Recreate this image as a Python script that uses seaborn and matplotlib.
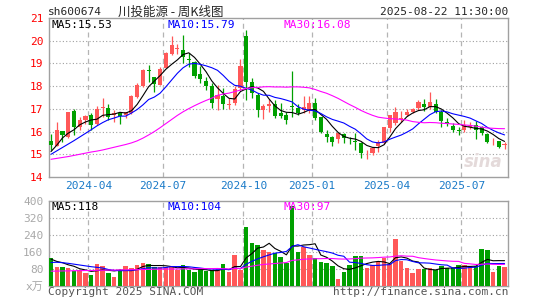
import numpy as np
import pandas as pd
import matplotlib
matplotlib.use("Agg")
import matplotlib.pyplot as plt
import seaborn as sns

# weekly K line of sh600674, one entry per trading week (first = week of 2024-02-09)
opens = [15.59, 15.38, 16.01, 15.74, 16.91, 16.19, 16.49, 16.74, 16.32, 17.05,
         17.03, 16.71, 16.81, 16.74, 16.81, 17.54, 18.01, 18.72, 18.40, 18.06,
         18.80, 19.43, 19.62, 19.60, 19.20, 19.07, 18.55, 18.23, 18.02, 17.44,
         17.55, 17.18, 17.25, 17.90, 20.22, 18.20, 17.62, 16.96, 17.13, 17.20,
         16.81, 16.75, 17.12, 17.05, 16.95, 16.96, 17.25, 16.62, 15.90, 15.78,
         15.66, 15.90, 15.65, 15.58, 15.50, 15.00, 15.05, 15.35, 15.51, 16.15,
         16.37, 16.56, 16.74, 16.84, 17.03, 17.22, 17.07, 17.22, 16.84, 16.42,
         16.25, 16.05, 16.05, 16.22, 16.30, 16.20, 15.88, 15.53, 15.58, 15.42]
closes = [15.41, 16.07, 15.85, 16.84, 16.22, 16.51, 16.69, 16.30, 17.00, 17.08,
          16.66, 16.81, 16.69, 16.84, 17.57, 18.06, 18.72, 18.68, 18.09, 18.77,
          19.45, 19.80, 19.66, 19.28, 19.15, 18.43, 18.30, 18.02, 17.26, 17.62,
          17.20, 17.22, 17.87, 18.90, 18.20, 17.70, 16.93, 17.13, 17.20, 16.70,
          16.69, 16.52, 17.08, 16.82, 17.10, 17.25, 16.60, 16.00, 15.74, 15.56,
          15.92, 15.70, 15.62, 15.55, 15.05, 15.03, 15.27, 15.56, 16.18, 16.74,
          16.88, 16.60, 16.88, 16.98, 17.28, 17.07, 17.28, 16.88, 16.45, 16.35,
          16.05, 16.02, 16.30, 16.25, 16.08, 15.93, 15.56, 15.55, 15.34, 15.45]
highs = [15.88, 16.42, 16.03, 16.88, 17.00, 16.65, 16.75, 16.80, 17.12, 17.48,
         17.23, 16.93, 16.87, 16.88, 17.60, 18.12, 18.74, 18.95, 18.42, 18.85,
         19.50, 20.20, 19.85, 20.25, 19.45, 19.12, 18.90, 18.40, 18.12, 18.05,
         17.92, 17.50, 18.00, 19.20, 20.45, 18.35, 17.68, 17.20, 17.42, 17.38,
         17.25, 16.88, 18.68, 17.22, 17.58, 17.55, 17.48, 16.65, 16.05, 15.80,
         15.95, 15.92, 15.78, 15.95, 15.55, 15.20, 15.30, 15.62, 16.20, 16.75,
         17.10, 16.90, 17.00, 17.05, 17.40, 17.45, 17.75, 17.42, 16.95, 16.58,
         16.38, 16.18, 16.52, 16.40, 16.45, 16.25, 15.92, 15.72, 15.60, 15.55]
lows = [15.19, 15.35, 15.55, 15.70, 15.85, 16.05, 16.35, 16.08, 16.27, 16.65,
        16.50, 16.44, 16.35, 16.60, 16.77, 17.50, 17.97, 18.20, 17.75, 18.03,
        18.78, 19.38, 19.40, 19.00, 18.85, 18.35, 18.15, 17.85, 17.02, 16.95,
        16.98, 16.98, 17.15, 17.85, 17.40, 17.50, 16.65, 16.55, 16.88, 16.60,
        16.58, 16.35, 16.62, 16.75, 16.82, 16.82, 16.50, 15.95, 15.55, 15.35,
        15.50, 15.50, 15.45, 15.20, 14.85, 14.80, 14.95, 15.10, 15.45, 16.00,
        16.30, 16.40, 16.70, 16.80, 16.95, 16.90, 17.00, 16.80, 16.22, 16.23,
        16.00, 15.86, 16.00, 16.10, 15.68, 15.85, 15.50, 15.42, 15.28, 15.25]
# weekly volume, unit 万
volumes = [130, 86, 86, 85, 68, 72, 57, 52, 100, 90,
           61, 42, 73, 90, 85, 95, 106, 100, 86, 86,
           89, 86, 72, 95, 72, 62, 78, 68, 72, 72,
           100, 62, 143, 72, 278, 201, 192, 168, 160, 155,
           135, 108, 377, 158, 180, 143, 130, 110, 105, 90,
           30, 62, 95, 140, 140, 82, 96, 112, 128, 100,
           222, 115, 83, 58, 78, 78, 83, 72, 92, 84,
           85, 96, 96, 90, 90, 173, 169, 64, 93, 88]

# moving average values at the left edge (they need weeks before the window)
ma5_head = [15.12, 15.40, 15.72, 15.93]
ma10_head = [15.00, 15.15, 15.30, 15.45, 15.60, 15.76, 15.92, 16.08, 16.25]
ma30_head = [14.78, 14.82, 14.86, 14.90, 14.95, 15.00, 15.05, 15.10, 15.14, 15.19,
             15.25, 15.31, 15.37, 15.43, 15.50, 15.59, 15.71, 15.85, 16.00, 16.17,
             16.35, 16.53, 16.71, 16.87, 17.01, 17.14, 17.26, 17.37, 17.47]
vma5_head = [125, 114, 108, 98]
vma10_head = [109, 110, 108, 105, 101, 97, 93, 89, 86]
vma30_head = [68, 68, 69, 69, 70, 70, 71, 71, 72, 72, 73, 73, 74, 74, 75,
              75, 76, 76, 77, 77, 78, 78, 78, 79, 79, 79, 80, 80, 80]

month_labels = ['2024-04', '2024-07', '2024-10', '2025-01', '2025-04', '2025-07']
month_first = [7, 20, 34, 46, 59, 72]  # index of first week in that month

RED = '#ff5858'
GREEN = '#00a000'
MONO = ['DejaVu Sans Mono', 'Noto Sans CJK SC']
CJK = ['Noto Sans CJK SC', 'DejaVu Sans']


def moving_avg(values, n, head):
    s = pd.Series(values, dtype=float).rolling(n).mean()
    s.iloc[:n - 1] = head
    return s


df = pd.DataFrame({'open': opens, 'close': closes, 'high': highs,
                   'low': lows, 'vol': volumes})
df['idx'] = np.arange(len(df))
df['side'] = np.where(df['close'] >= df['open'], 'up', 'down')
colors = {'up': RED, 'down': GREEN}

sns.set_style('white')
plt.rcParams['font.family'] = MONO

fig = plt.figure(figsize=(5.45, 3.0), dpi=100)
ax = fig.add_axes([49 / 545, 1 - 177 / 300, 459 / 545, 159 / 300])
axv = fig.add_axes([49 / 545, 1 - 285.5 / 300, 459 / 545, 84.5 / 300])

# candles
bar_col = df['side'].map(colors)
ax.vlines(df['idx'], df['low'], df['high'], colors=bar_col, linewidth=0.9, zorder=3)
body_lo = df[['open', 'close']].min(axis=1)
body_h = (df['close'] - df['open']).abs().clip(lower=0.03)
ax.bar(df['idx'], body_h, bottom=body_lo, width=0.72, color=bar_col,
       linewidth=0, zorder=4)

for vals, n, head, col in [(closes, 5, ma5_head, 'black'),
                           (closes, 10, ma10_head, '#0000ff'),
                           (closes, 30, ma30_head, '#ff00ff')]:
    sns.lineplot(x=df['idx'], y=moving_avg(vals, n, head), color=col,
                 linewidth=0.8, ax=ax, zorder=5)

# volume
sns.barplot(data=df, x='idx', y='vol', hue='side', palette=colors, dodge=False,
            native_scale=True, saturation=1, width=0.78, linewidth=0,
            legend=False, ax=axv, zorder=3)
for vals, n, head, col in [(volumes, 5, vma5_head, 'black'),
                           (volumes, 10, vma10_head, '#0000ff'),
                           (volumes, 30, vma30_head, '#ff00ff')]:
    sns.lineplot(x=df['idx'], y=moving_avg(vals, n, head), color=col,
                 linewidth=0.8, ax=axv, zorder=5)

grid_x = [m - 0.5 for m in month_first]
for a, ylim, yt in [(ax, (14, 21), range(15, 21)), (axv, (0, 400), range(80, 400, 80))]:
    a.set_xlim(-0.35, 79.6)
    a.set_ylim(*ylim)
    for y in yt:
        a.axhline(y, color='#a0a0a0', linewidth=0.8, linestyle=(0, (1, 2)), zorder=1)
    for x in grid_x:
        a.axvline(x, color='#b4b4b4', linewidth=0.9, linestyle=(0, (4, 3)), zorder=1)
    a.set_xlabel('')
    a.set_ylabel('')
    for sp in a.spines.values():
        sp.set_color('#a0a0a0')
        sp.set_linewidth(1.0)
    a.tick_params(length=0, pad=4)

ax.set_yticks(range(14, 22))
ax.set_yticklabels([str(v) for v in range(14, 22)], color='red', fontsize=8)
ax.set_xticks(grid_x)
ax.set_xticklabels(month_labels, color='#1a7ac8', fontsize=8)
ax.tick_params(axis='x', pad=3)

axv.set_yticks([0, 80, 160, 240, 320, 400])
axv.set_yticklabels(['x万', '80', '160', '240', '320', '400'], color='#a8a8a8', fontsize=8)
axv.set_xticks([])

# MA labels
for a, labels in [(ax, ['MA5:15.53', 'MA10:15.79', 'MA30:16.08']),
                  (axv, ['MA5:118', 'MA10:104', 'MA30:97'])]:
    for xf, txt, col in zip([52, 167, 283], labels, ['black', '#0000ff', '#ff00ff']):
        a.text((xf - 49) / 459, 0.985, txt, transform=a.transAxes, color=col,
               fontsize=8, ha='left', va='top', zorder=6)

ax.text(0.945, 0.04, 'sina', transform=ax.transAxes, color='#e4dada', fontsize=12,
        fontstyle='italic', fontweight='bold', family='DejaVu Sans', ha='center',
        va='bottom', zorder=2)

# header and footer
fig.text(48 / 545, 1 - 12 / 300, 'sh600674', fontsize=8, va='center', ha='left')
fig.text(118 / 545, 1 - 12 / 300, '川投能源 - 周K线图', family=CJK, fontsize=9,
         va='center', ha='left')
fig.text(508 / 545, 1 - 12 / 300, '2025-08-22 11:30:00', fontsize=8,
         va='center', ha='right')
fig.text(48 / 545, 1 - 292 / 300, 'Copyright 2025 SINA.COM', color='#555555',
         fontsize=8, va='center', ha='left')
fig.text(508 / 545, 1 - 292 / 300, 'http://finance.sina.com.cn', color='#555555',
         fontsize=8, va='center', ha='right')

fig.savefig('out.png', dpi=100)
